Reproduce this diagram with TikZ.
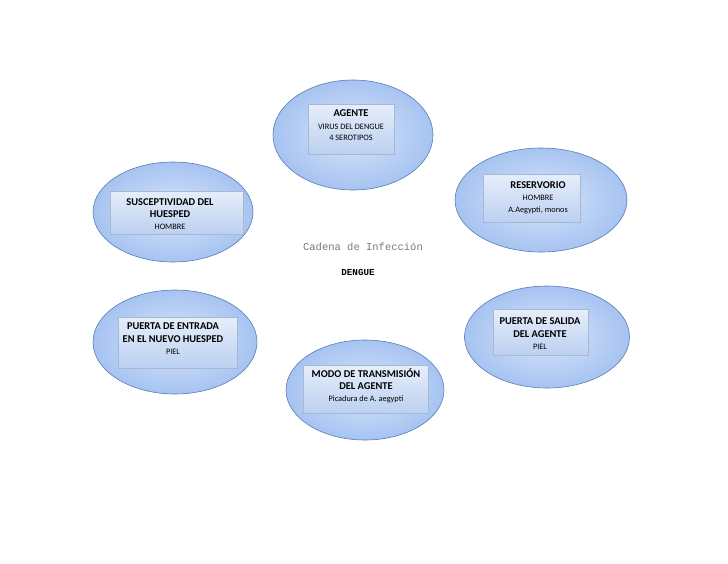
\documentclass[tikz,border=0pt]{standalone}
\usepackage{fontspec}
\setmainfont{Carlito}
\newfontfamily\monofont{Liberation Mono}
\usetikzlibrary{shapes.geometric,shadows}
\definecolor{ellline}{HTML}{5A7DB5}
\definecolor{ellin}{HTML}{D9E6FA}
\definecolor{ellout}{HTML}{A6C3F1}
\definecolor{recttop}{HTML}{E6EEFA}
\definecolor{rectbot}{HTML}{BCD0F1}
\definecolor{rectline}{HTML}{A7B8D2}
\definecolor{capgray}{HTML}{7A7A7A}
\newcommand{\hdf}{\fontsize{10.4}{13}\selectfont\bfseries}
\newcommand{\smf}{\fontsize{8.3}{10.5}\selectfont}
\tikzset{
  ell/.style={ellipse, draw=ellline, line width=0.6pt, inner color=ellin, outer color=ellout, inner sep=0pt},
  rbox/.style={draw=rectline, line width=0.4pt, top color=recttop, bottom color=rectbot,
    drop shadow={shadow xshift=0.8pt, shadow yshift=-1.4pt, opacity=0.35}},
  txt/.style={align=center, anchor=north, inner sep=0pt, text=black}
}
\begin{document}
\begin{tikzpicture}[x=1pt,y=-1pt]
\useasboundingbox (0,0) rectangle (728,563);
% AGENTE
\node[ell, minimum width=160pt, minimum height=110pt] (e1) at (353,135) {};
\path[rbox] (308,104) rectangle (394,154);
\node[txt] (t1) at (351,109.5) {{\hdf AGENTE}\\[0.5pt]{\smf VIRUS DEL DENGUE}\\[-0.5pt]{\smf 4 SEROTIPOS}};
% RESERVORIO
\node[ell, minimum width=172pt, minimum height=104pt] (e2) at (541,200) {};
\path[rbox] (483,174) rectangle (580,222);
\node[txt] (t2) at (538,181) {{\hdf RESERVORIO}\\[0.5pt]{\smf HOMBRE}\\[-0.5pt]{\smf A.Aegypti, monos}};
% SUSCEPTIVIDAD
\node[ell, minimum width=160pt, minimum height=100pt] (e3) at (173,212) {};
\path[rbox] (110,191) rectangle (243,234);
\node[txt] (t3) at (170,198) {{\hdf SUSCEPTIVIDAD DEL}\\[0.5pt]{\hdf HUESPED}\\[0pt]{\smf HOMBRE}};
% PUERTA DE ENTRADA
\node[ell, minimum width=164pt, minimum height=104pt] (e4) at (175,342) {};
\path[rbox] (118,317) rectangle (237,368);
\node[txt] (t4) at (173,323) {{\hdf PUERTA DE ENTRADA}\\[0.5pt]{\hdf EN EL NUEVO HUESPED}\\[0pt]{\smf PIEL}};
% MODO DE TRANSMISION
\node[ell, minimum width=158pt, minimum height=100pt] (e5) at (365,390) {};
\path[rbox] (303,365) rectangle (428,413);
\node[txt] (t5) at (366,368.5) {{\hdf MODO DE TRANSMISIÓN}\\[0.5pt]{\hdf DEL AGENTE}\\[0pt]{\smf Picadura de A. aegypti}};
% PUERTA DE SALIDA
\node[ell, minimum width=165pt, minimum height=102pt] (e6) at (547,337) {};
\path[rbox] (493,309) rectangle (588,355);
\node[txt] (t6) at (540,317.5) {{\hdf PUERTA DE SALIDA}\\[0.5pt]{\hdf DEL AGENTE}\\[0pt]{\smf PIEL}};
% centre
\node[inner sep=0pt, text=capgray, font=\monofont\fontsize{10.5}{12}\selectfont] (cad) at (363,247) {Cadena de Infección};
\node[inner sep=0pt, font=\monofont\bfseries\fontsize{9.2}{10}\selectfont] (den) at (358,272) {DENGUE};
\end{tikzpicture}
\end{document}
